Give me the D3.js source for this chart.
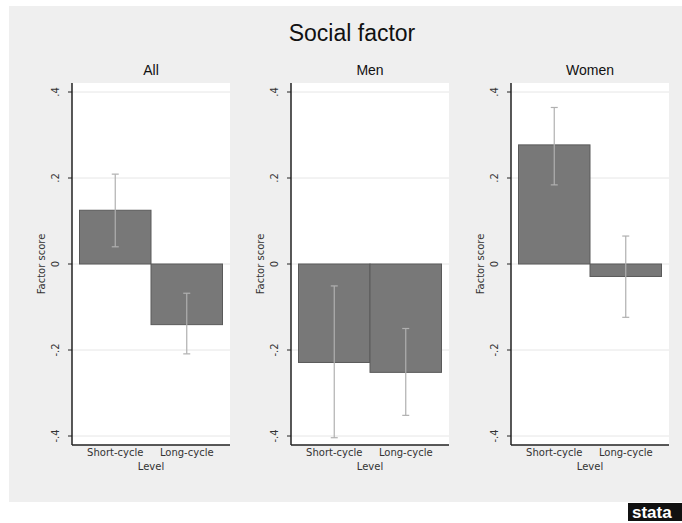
<!DOCTYPE html>
<html>
<head>
<meta charset="utf-8">
<script src="https://cdn.jsdelivr.net/npm/d3@7"></script>
<style>
  body { margin: 0; background: #fff; }
  text { font-family: "Liberation Sans", Arial, sans-serif; }
  .small { font-family: "DejaVu Sans", Verdana, sans-serif; }
</style>
</head>
<body>
<div id="chart"></div>
<script>
// Data
let panels = ["All", "Men", "Women"];
let levels = ["Short-cycle", "Long-cycle"];
let means = [[0.125, -0.141], [-0.229, -0.252], [0.277, -0.029]];
let lower = [[0.040, -0.209], [-0.404, -0.352], [0.184, -0.124]];
let upper = [[0.209, -0.068], [-0.051, -0.150], [0.364, 0.065]];
let yTicks = [-0.4, -0.2, 0, 0.2, 0.4];
let yTickLabels = ["-.4", "-.2", "0", ".2", ".4"];

let w = 682;
let h = 523;
// Plot region geometry
let plotTop = 83;
let plotBottom = 445;
let plotW = 158;
let panelX = [72, 291, 511];
let innerPad = 7.5;

let svg = d3.select("#chart").append("svg")
  .attr("width", w)
  .attr("height", h);

// Gray graph background
svg.append("rect")
  .attr("x", 9).attr("y", 6)
  .attr("width", w - 9).attr("height", 496)
  .attr("fill", "#efefef");

// Overall title
svg.append("text")
  .text("Social factor")
  .attr("x", 352)
  .attr("y", 41)
  .attr("text-anchor", "middle")
  .attr("font-size", "23px")
  .attr("fill", "#111");

let yScale = d3.scaleLinear()
  .domain([-0.4, 0.4])
  .range([436, 92]);

panels.forEach(function(p, pi) {
  let x0 = panelX[pi];
  let g = svg.append("g");

  let xScale = d3.scaleBand()
    .domain(levels)
    .range([x0 + innerPad, x0 + plotW - innerPad])
    .padding(0);

  // white plot region
  g.append("rect")
    .attr("x", x0).attr("y", plotTop)
    .attr("width", plotW).attr("height", plotBottom - plotTop)
    .attr("fill", "#fff");

  // gridlines
  g.selectAll(".grid")
    .data(yTicks)
    .enter()
    .append("line")
    .attr("x1", x0).attr("x2", x0 + plotW)
    .attr("y1", function(d) { return yScale(d); })
    .attr("y2", function(d) { return yScale(d); })
    .attr("stroke", "#e6e6e6")
    .attr("stroke-width", 1);

  // bars
  g.selectAll(".bar")
    .data(levels)
    .enter()
    .append("rect")
    .attr("x", function(d) { return xScale(d); })
    .attr("width", xScale.bandwidth())
    .attr("y", function(d, i) { return yScale(Math.max(0, means[pi][i])); })
    .attr("height", function(d, i) { return Math.abs(yScale(means[pi][i]) - yScale(0)); })
    .attr("fill", "#787878")
    .attr("stroke", "#5a5a5a")
    .attr("stroke-width", 1);

  // error bars
  levels.forEach(function(l, i) {
    let cx = xScale(l) + xScale.bandwidth() / 2;
    g.append("line")
      .attr("x1", cx).attr("x2", cx)
      .attr("y1", yScale(upper[pi][i])).attr("y2", yScale(lower[pi][i]))
      .attr("stroke", "#b0b0b0").attr("stroke-width", 1.2);
    [upper[pi][i], lower[pi][i]].forEach(function(v) {
      g.append("line")
        .attr("x1", cx - 3.5).attr("x2", cx + 3.5)
        .attr("y1", yScale(v)).attr("y2", yScale(v))
        .attr("stroke", "#b0b0b0").attr("stroke-width", 1.2);
    });
  });

  // axis lines
  g.append("line")
    .attr("x1", x0).attr("x2", x0)
    .attr("y1", plotTop).attr("y2", plotBottom)
    .attr("stroke", "#222").attr("stroke-width", 1.5);
  g.append("line")
    .attr("x1", x0).attr("x2", x0 + plotW)
    .attr("y1", plotBottom).attr("y2", plotBottom)
    .attr("stroke", "#222").attr("stroke-width", 1.5);

  g.selectAll(".tick")
    .data(yTicks)
    .enter()
    .append("line")
    .attr("x1", x0 - 4).attr("x2", x0)
    .attr("y1", function(d) { return yScale(d); })
    .attr("y2", function(d) { return yScale(d); })
    .attr("stroke", "#222").attr("stroke-width", 1);

  g.selectAll(".tickLabel")
    .data(yTicks)
    .enter()
    .append("text")
    .classed("small", true)
    .text(function(d, i) { return yTickLabels[i]; })
    .attr("transform", function(d) { return "translate(" + (x0 - 17) + "," + yScale(d) + ") rotate(-90)"; })
    .attr("dy", "0.35em")
    .attr("text-anchor", "middle")
    .attr("font-size", "10px")
    .attr("fill", "#333");

  // y axis title
  g.append("text")
    .classed("small", true)
    .text("Factor score")
    .attr("transform", "translate(" + (x0 - 27) + "," + ((plotTop + plotBottom) / 2) + ") rotate(-90)")
    .attr("text-anchor", "middle")
    .attr("font-size", "10px")
    .attr("fill", "#333");

  // x category labels
  g.selectAll(".xLabel")
    .data(levels)
    .enter()
    .append("text")
    .classed("small", true)
    .text(function(d) { return d; })
    .attr("x", function(d) { return xScale(d) + xScale.bandwidth() / 2; })
    .attr("y", plotBottom + 11)
    .attr("text-anchor", "middle")
    .attr("font-size", "10px")
    .attr("fill", "#333");

  // x axis title
  g.append("text")
    .classed("small", true)
    .text("Level")
    .attr("x", x0 + plotW / 2)
    .attr("y", plotBottom + 25)
    .attr("text-anchor", "middle")
    .attr("font-size", "10px")
    .attr("fill", "#333");

  // panel title
  g.append("text")
    .text(p)
    .attr("x", x0 + plotW / 2)
    .attr("y", 75)
    .attr("text-anchor", "middle")
    .attr("font-size", "14px")
    .attr("fill", "#111");
});

// stata logo
svg.append("rect")
  .attr("x", 628).attr("y", 503)
  .attr("width", 54).attr("height", 18)
  .attr("fill", "#111");
svg.append("text")
  .text("stata")
  .attr("x", 632).attr("y", 518)
  .attr("font-size", "17px")
  .attr("font-weight", "bold")
  .attr("fill", "#fff");
</script>
</body>
</html>
